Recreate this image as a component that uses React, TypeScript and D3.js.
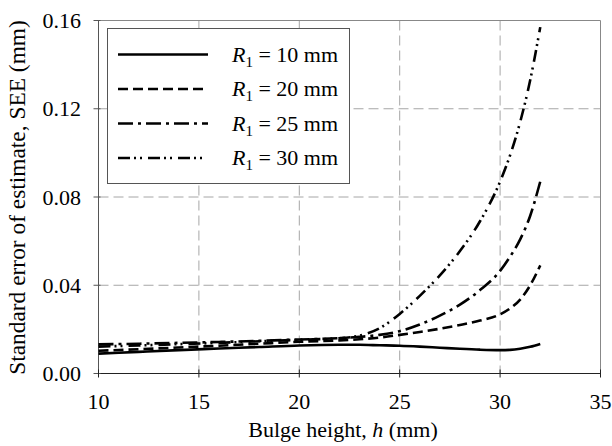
import * as d3 from 'd3'
import React from 'react'

const hValues = [10, 12, 14, 16, 18, 20, 22, 23, 24, 25, 26, 27, 28, 29, 30, 30.5, 31, 31.5, 32]

const see10 = [0.009, 0.0098, 0.0106, 0.0113, 0.012, 0.0127, 0.013, 0.013, 0.0128, 0.0126, 0.0122, 0.0117, 0.0112, 0.0108, 0.0106, 0.0107, 0.0112, 0.0121, 0.0134]
const see20 = [0.0103, 0.011, 0.0118, 0.0126, 0.0135, 0.0144, 0.015, 0.0155, 0.0163, 0.0175, 0.0188, 0.0203, 0.022, 0.024, 0.0268, 0.0295, 0.0335, 0.04, 0.049]
const see25 = [0.0132, 0.0135, 0.0139, 0.0143, 0.0148, 0.0154, 0.016, 0.0166, 0.0175, 0.0192, 0.0222, 0.0262, 0.0312, 0.0378, 0.0465, 0.053, 0.0608, 0.0715, 0.087]
const see30 = [0.0122, 0.0127, 0.0133, 0.0139, 0.0146, 0.0153, 0.016, 0.0172, 0.0205, 0.027, 0.0352, 0.0445, 0.0555, 0.069, 0.087, 0.099, 0.114, 0.133, 0.157]

const seriesLabels = ['10', '20', '25', '30']
const dashes = ['', '10,5', '15,5,3,5', '12,4,2,4,2,6']

const xTicks = [10, 15, 20, 25, 30, 35]
const yTicks = [0, 0.04, 0.08, 0.12, 0.16]

const W = 612
const H = 446
const left = 98.5
const right = 600.5
const top = 20.5
const bottom = 373.5

export default function App() {
  const x = d3.scaleLinear().domain([10, 35]).range([left, right])
  const y = d3.scaleLinear().domain([0, 0.16]).range([bottom, top])
  const allSeries = [see10, see20, see25, see30]

  const line = d3
    .line<number>()
    .x((_, i) => x(hValues[i]))
    .y(d => y(d))
    .curve(d3.curveMonotoneX)

  const font = "'Liberation Serif', 'DejaVu Serif', serif"
  const ts = { fontFamily: font, fontSize: 22 }

  return (
    <svg width={W} height={H} style={{ position: 'absolute', left: 0, top: 0, background: '#fff' }}>
      {/* grid */}
      {xTicks.slice(1, -1).map(t => (
        <line key={'gx' + t} x1={x(t)} x2={x(t)} y1={top} y2={bottom} stroke="#a6a6a6" strokeWidth={1} strokeDasharray="10,5" />
      ))}
      {yTicks.slice(1, -1).map(t => (
        <line key={'gy' + t} x1={left} x2={right} y1={y(t)} y2={y(t)} stroke="#a6a6a6" strokeWidth={1} strokeDasharray="10,5" />
      ))}
      {/* frame */}
      <line x1={left} x2={right} y1={top} y2={top} stroke="#888" />
      <line x1={right} x2={right} y1={top} y2={bottom} stroke="#888" />
      <line x1={left} x2={left} y1={top} y2={bottom} stroke="#555" />
      <line x1={left} x2={right} y1={bottom} y2={bottom} stroke="#222" />
      {/* ticks */}
      {yTicks.map(t => (
        <g key={'yt' + t}>
          <line x1={left - 5} x2={left + 2} y1={y(t)} y2={y(t)} stroke="#555" />
          <text x={81} y={y(t) + 7.5} style={ts} textAnchor="end">{t.toFixed(2)}</text>
        </g>
      ))}
      {xTicks.map(t => (
        <g key={'xt' + t}>
          <line x1={x(t)} x2={x(t)} y1={bottom - 4} y2={bottom + 4} stroke="#222" />
          <text x={x(t)} y={409} style={ts} textAnchor="middle">{t}</text>
        </g>
      ))}
      {/* series */}
      {allSeries.map((s, i) => (
        <path key={'s' + i} d={line(s) || ''} fill="none" stroke="#000" strokeWidth={2.6} strokeDasharray={dashes[i]} />
      ))}
      {/* legend */}
      <rect x={107.5} y={28.5} width={242} height={155} fill="#fff" stroke="#555" strokeWidth={1} />
      {seriesLabels.map((lab, i) => {
        const ly = 54.5 + i * 34.5
        return (
          <g key={'lg' + i}>
            <line x1={118} x2={208} y1={ly} y2={ly} stroke="#000" strokeWidth={2.6} strokeDasharray={dashes[i]} />
            <text x={232} y={ly + 7} style={ts}>
              <tspan fontStyle="italic">R</tspan>
              <tspan style={{ fontSize: 15 }} dy={5}>1</tspan>
              <tspan dy={-5}>{' = ' + lab + ' mm'}</tspan>
            </text>
          </g>
        )
      })}
      {/* axis titles */}
      <text x={343} y={437} style={ts} textAnchor="middle">
        Bulge height, <tspan fontStyle="italic">h</tspan> (mm)
      </text>
      <text transform={`translate(25,197.5) rotate(-90)`} style={{ fontFamily: font, fontSize: 23.4 }} textAnchor="middle">
        Standard error of estimate, SEE (mm)
      </text>
    </svg>
  )
}
